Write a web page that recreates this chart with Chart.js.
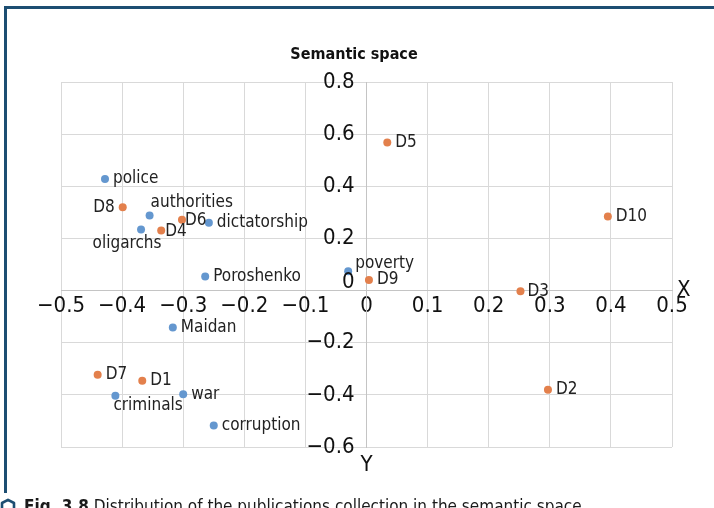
<!DOCTYPE html>
<html>
<head>
<meta charset="utf-8">
<script src="https://cdn.jsdelivr.net/npm/chart.js@4.4.0/dist/chart.umd.min.js"></script>
<style>
  html, body { margin: 0; padding: 0; background: #fff; overflow: hidden; }
  #frame { position: absolute; left: 4px; top: 6px; width: 720px; height: 484px;
           border-left: 3px solid #1d4e72; border-top: 3px solid #1d4e72; }
  #wrap { position: absolute; left: 0; top: 0; width: 714px; height: 508px; }
  #caption { position: absolute; left: 0; top: 496px; white-space: nowrap;
             font: 17px "Liberation Sans Narrow", "DejaVu Sans Condensed", sans-serif; color: #1a1a1a; }
  #caption svg { vertical-align: -2px; margin-right: 8px; }
</style>
</head>
<body>
<div id="frame"></div>
<div id="wrap"><canvas id="semanticChart"></canvas></div>
<div id="caption"><svg width="16" height="16" viewBox="0 0 16 16"><polygon points="8,1.8 14,5 14,11 8,14.2 2,11 2,5" fill="none" stroke="#1d4e72" stroke-width="2.6" stroke-linejoin="round"/></svg><b>Fig. 3.8</b> Distribution of the publications collection in the semantic space.</div>
<script>
const FONT = '"Liberation Sans Narrow", "DejaVu Sans Condensed", sans-serif';
const TITLE = 'Semantic space';

// terms (blue)
const termNames = ['police', 'authorities', 'oligarchs', 'dictatorship', 'Poroshenko', 'poverty', 'Maidan', 'criminals', 'war', 'corruption'];
const termX = [-0.428, -0.355, -0.369, -0.258, -0.264, -0.030, -0.317, -0.411, -0.300, -0.250];
const termY = [0.428, 0.288, 0.234, 0.260, 0.054, 0.074, -0.142, -0.403, -0.398, -0.518];

// documents (orange)
const docNames = ['D1', 'D2', 'D3', 'D4', 'D5', 'D6', 'D7', 'D8', 'D9', 'D10'];
const docX = [-0.367, 0.297, 0.252, -0.336, 0.034, -0.302, -0.440, -0.399, 0.004, 0.395];
const docY = [-0.346, -0.380, -0.003, 0.230, 0.568, 0.272, -0.323, 0.320, 0.041, 0.284];

const xTicks = [-0.5, -0.4, -0.3, -0.2, -0.1, 0, 0.1, 0.2, 0.3, 0.4, 0.5];
const yTicks = [-0.6, -0.4, -0.2, 0, 0.2, 0.4, 0.6, 0.8];

// where each label sits relative to its point
const R = { dx: 8, dy: 0, align: 'left' };
const termPlacement = [R, { dx: 1, dy: -13, align: 'left' }, { dx: -14, dy: 14, align: 'center' }, R, R,
                       { dx: 7, dy: -8, align: 'left' }, R, { dx: -2, dy: 10, align: 'left' }, R, R];
const docPlacement = [R, R, { dx: 7, dy: 0, align: 'left' }, { dx: 4, dy: 1, align: 'left' }, R,
                      { dx: 3, dy: 1, align: 'left' }, R, { dx: -8, dy: 0, align: 'right' }, R, R];

function toPoints(xs, ys) {
    return xs.map((x, i) => ({ x: x, y: ys[i] }));
}

function fmt(v) {
    const s = Math.abs(v) < 1e-9 ? '0' : String(Math.round(v * 10) / 10);
    return s.replace('-', '\u2212');
}

// draws the title, point names, y tick labels and the X / Y axis letters
const pointLabels = {
    id: 'pointLabels',
    afterDatasetsDraw(chart) {
        const ctx = chart.ctx;
        const xs = chart.scales.x, ys = chart.scales.y;
        ctx.save();
        ctx.textBaseline = 'middle';

        ctx.font = 'bold 16px ' + FONT;
        ctx.fillStyle = '#111';
        ctx.textAlign = 'center';
        ctx.fillText(TITLE, 354, 55);

        ctx.font = '17px ' + FONT;
        ctx.fillStyle = '#222';
        chart.data.datasets.forEach((ds, i) => {
            chart.getDatasetMeta(i).data.forEach((pt, j) => {
                const p = ds.placement[j];
                ctx.textAlign = p.align;
                ctx.fillText(ds.names[j], pt.x + p.dx, pt.y + p.dy);
            });
        });

        // y tick labels sit left of the vertical axis, the zero nudged up
        const axisX = xs.getPixelForValue(0);
        ctx.font = '22px ' + FONT;
        ctx.fillStyle = '#111';
        ctx.textAlign = 'right';
        ys.ticks.forEach(t => {
            const lift = t.value === 0 ? 8 : 0;
            ctx.fillText(fmt(t.value), axisX - 12, ys.getPixelForValue(t.value) - lift);
        });

        ctx.textAlign = 'left';
        ctx.fillText('X', xs.right + 5, ys.getPixelForValue(0));
        ctx.textAlign = 'center';
        ctx.fillText('Y', axisX, ys.bottom + 18);
        ctx.restore();
    }
};

window.onload = function() {
    const ctx = document.getElementById('semanticChart').getContext('2d');
    new Chart(ctx, {
        type: 'scatter',
        data: {
            datasets: [{
                label: 'Terms',
                data: toPoints(termX, termY),
                names: termNames,
                placement: termPlacement,
                backgroundColor: '#6497cf',
                borderWidth: 0,
                pointRadius: 4
            }, {
                label: 'Documents',
                data: toPoints(docX, docY),
                names: docNames,
                placement: docPlacement,
                backgroundColor: '#e3804c',
                borderWidth: 0,
                pointRadius: 4
            }]
        },
        options: {
            responsive: true,
            maintainAspectRatio: false,
            animation: false,
            layout: { padding: { left: 61, right: 42, top: 82, bottom: 61 } },
            plugins: {
                legend: { display: false },
                tooltip: { enabled: false },
                title: { display: false }
            },
            scales: {
                x: {
                    type: 'linear',
                    min: -0.5,
                    max: 0.5,
                    position: { y: 0 },
                    afterBuildTicks: s => { s.ticks = xTicks.map(v => ({ value: v })); },
                    grid: { color: '#d9d9d9', drawTicks: false },
                    border: { color: '#c4c4c4' },
                    ticks: {
                        color: '#111',
                        font: { family: FONT, size: 22 },
                        padding: 3,
                        maxRotation: 0,
                        autoSkip: false,
                        callback: v => fmt(v)
                    }
                },
                y: {
                    type: 'linear',
                    min: -0.6,
                    max: 0.8,
                    position: { x: 0 },
                    afterBuildTicks: s => { s.ticks = yTicks.map(v => ({ value: v })); },
                    grid: { color: '#d9d9d9', drawTicks: false },
                    border: { color: '#c4c4c4' },
                    ticks: { display: false }
                }
            }
        },
        plugins: [pointLabels]
    });
};
</script>
</body>
</html>
